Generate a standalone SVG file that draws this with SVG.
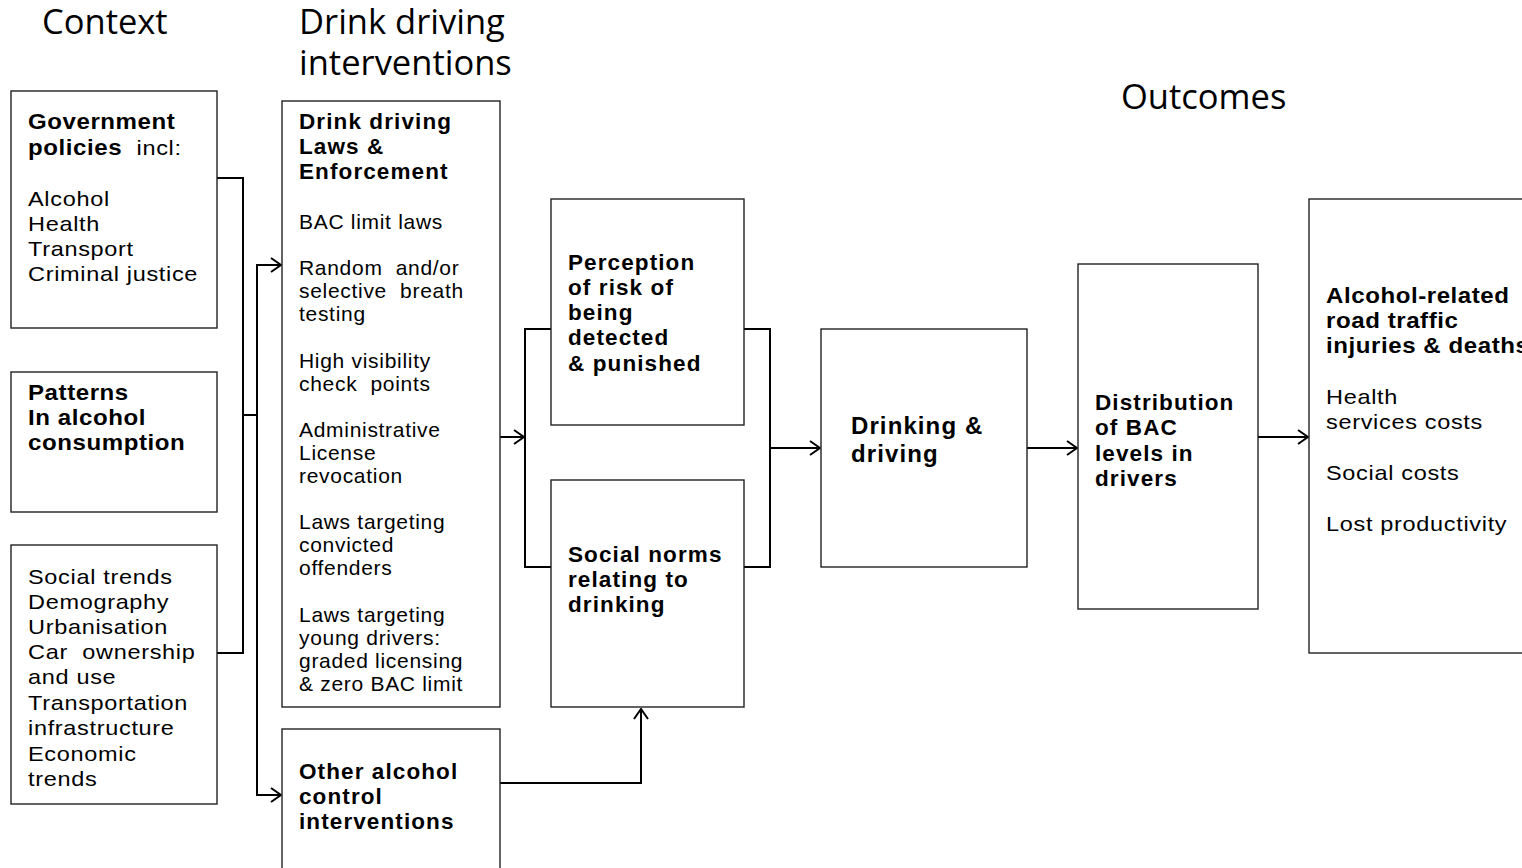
<svg xmlns="http://www.w3.org/2000/svg" width="1522" height="868" viewBox="0 0 1522 868">
<style>
.box{fill:#fff;stroke:#222;stroke-width:1.4}
.t{font-family:"Liberation Sans",Arial,sans-serif;font-size:21px;fill:#000;letter-spacing:0.7px}
.tl{font-family:"Liberation Sans",Arial,sans-serif;font-size:21px;fill:#000;letter-spacing:0.6px}
.b{font-family:"Liberation Sans",Arial,sans-serif;font-size:22.5px;font-weight:bold;fill:#000;letter-spacing:1.1px}
.bl{font-family:"Liberation Sans",Arial,sans-serif;font-size:21.5px;font-weight:bold;fill:#000;letter-spacing:0.5px}
.h{font-family:"Open Sans",sans-serif;font-size:34.5px;fill:#000}
.c{fill:none;stroke:#000;stroke-width:2}
</style>
<defs>
<marker id="ar" viewBox="0 0 12 16" refX="11" refY="8" markerWidth="12" markerHeight="16" markerUnits="userSpaceOnUse" orient="auto">
<path d="M1,1 L11,8 L1,15" fill="none" stroke="#000" stroke-width="2"/>
</marker>
</defs>
<rect width="1522" height="868" fill="#fff"/>
<g id="titles">
<text class="h" x="42" y="34">Context</text>
<text class="h" x="299" y="34">Drink driving</text>
<text class="h" x="299" y="75">interventions</text>
<text class="h" x="1121" y="109">Outcomes</text>
</g>
<g id="connectors">
<polyline class="c" points="217,178 243,178 243,653 217,653"/>
<line class="c" x1="243" y1="415" x2="257" y2="415"/>
<polyline class="c" points="281,265 257,265 257,795 281,795"/>
<line class="c" x1="257" y1="265" x2="281" y2="265" marker-end="url(#ar)"/>
<line class="c" x1="257" y1="795" x2="281" y2="795" marker-end="url(#ar)"/>
<line class="c" x1="500" y1="437" x2="524" y2="437" marker-end="url(#ar)"/>
<polyline class="c" points="551,329 525,329 525,567 551,567"/>
<polyline class="c" points="744,329 770,329 770,567 744,567"/>
<line class="c" x1="770" y1="448" x2="820" y2="448" marker-end="url(#ar)"/>
<line class="c" x1="1027" y1="448" x2="1077" y2="448" marker-end="url(#ar)"/>
<line class="c" x1="1258" y1="437" x2="1308" y2="437" marker-end="url(#ar)"/>
<polyline class="c" points="500,783 641,783 641,709"/>
<line class="c" x1="641" y1="740" x2="641" y2="709" marker-end="url(#ar)"/>
</g>
<g id="gov">
<rect class="box" x="11" y="91" width="206" height="237"/>
<g transform="translate(28,0) scale(1.12,1)">
<text class="bl" x="0" y="129">Government</text>
<text x="0" y="155"><tspan class="bl">policies</tspan><tspan class="tl">&#160; incl:</tspan></text>
<text class="tl" x="0" y="206">Alcohol</text>
<text class="tl" x="0" y="231">Health</text>
<text class="tl" x="0" y="256">Transport</text>
<text class="tl" x="0" y="281">Criminal justice</text>
</g>
</g>
<g id="patterns">
<rect class="box" x="11" y="372" width="206" height="140"/>
<g transform="translate(28,0) scale(1.12,1)">
<text class="bl" x="0" y="400">Patterns</text>
<text class="bl" x="0" y="425">In alcohol</text>
<text class="bl" x="0" y="450">consumption</text>
</g>
</g>
<g id="social-trends">
<rect class="box" x="11" y="545" width="206" height="259"/>
<g transform="translate(28,0) scale(1.12,1)">
<text class="tl" x="0" y="584">Social trends</text>
<text class="tl" x="0" y="609">Demography</text>
<text class="tl" x="0" y="634">Urbanisation</text>
<text class="tl" x="0" y="659">Car&#160; ownership</text>
<text class="tl" x="0" y="684">and use</text>
<text class="tl" x="0" y="710">Transportation</text>
<text class="tl" x="0" y="735">infrastructure</text>
<text class="tl" x="0" y="761">Economic</text>
<text class="tl" x="0" y="786">trends</text>
</g>
</g>
<g id="laws">
<rect class="box" x="282" y="101" width="218" height="606"/>
<text class="b" x="299" y="129">Drink driving</text>
<text class="b" x="299" y="154">Laws &amp;</text>
<text class="b" x="299" y="179">Enforcement</text>
<text class="t" x="299" y="229">BAC limit laws</text>
<text class="t" x="299" y="275">Random&#160; and/or</text>
<text class="t" x="299" y="298">selective&#160; breath</text>
<text class="t" x="299" y="321">testing</text>
<text class="t" x="299" y="368">High visibility</text>
<text class="t" x="299" y="391">check&#160; points</text>
<text class="t" x="299" y="437">Administrative</text>
<text class="t" x="299" y="460">License</text>
<text class="t" x="299" y="483">revocation</text>
<text class="t" x="299" y="529">Laws targeting</text>
<text class="t" x="299" y="552">convicted</text>
<text class="t" x="299" y="575">offenders</text>
<text class="t" x="299" y="622">Laws targeting</text>
<text class="t" x="299" y="645">young drivers:</text>
<text class="t" x="299" y="668">graded licensing</text>
<text class="t" x="299" y="691">&amp; zero BAC limit</text>
</g>
<g id="other">
<rect class="box" x="282" y="729" width="218" height="150"/>
<text class="b" x="299" y="779">Other alcohol</text>
<text class="b" x="299" y="804">control</text>
<text class="b" x="299" y="829">interventions</text>
</g>
<g id="perception">
<rect class="box" x="551" y="199" width="193" height="226"/>
<text class="b" x="568" y="270">Perception</text>
<text class="b" x="568" y="295">of risk of</text>
<text class="b" x="568" y="320">being</text>
<text class="b" x="568" y="345">detected</text>
<text class="b" x="568" y="371">&amp; punished</text>
</g>
<g id="norms">
<rect class="box" x="551" y="480" width="193" height="227"/>
<text class="b" x="568" y="562">Social norms</text>
<text class="b" x="568" y="587">relating to</text>
<text class="b" x="568" y="612">drinking</text>
</g>
<g id="drinking">
<rect class="box" x="821" y="329" width="206" height="238"/>
<text class="b" x="851" y="434" style="font-size:24px">Drinking &amp;</text>
<text class="b" x="851" y="462" style="font-size:24px">driving</text>
</g>
<g id="bac">
<rect class="box" x="1078" y="264" width="180" height="345"/>
<text class="b" x="1095" y="410">Distribution</text>
<text class="b" x="1095" y="435">of BAC</text>
<text class="b" x="1095" y="461">levels in</text>
<text class="b" x="1095" y="486">drivers</text>
</g>
<g id="outcomes">
<rect class="box" x="1309" y="199" width="230" height="454"/>
<g transform="translate(1326,0) scale(1.12,1)">
<text class="bl" x="0" y="303">Alcohol-related</text>
<text class="bl" x="0" y="328">road traffic</text>
<text class="bl" x="0" y="353">injuries &amp; deaths</text>
<text class="tl" x="0" y="404">Health</text>
<text class="tl" x="0" y="429">services costs</text>
<text class="tl" x="0" y="480">Social costs</text>
<text class="tl" x="0" y="531">Lost productivity</text>
</g>
</g>
</svg>
